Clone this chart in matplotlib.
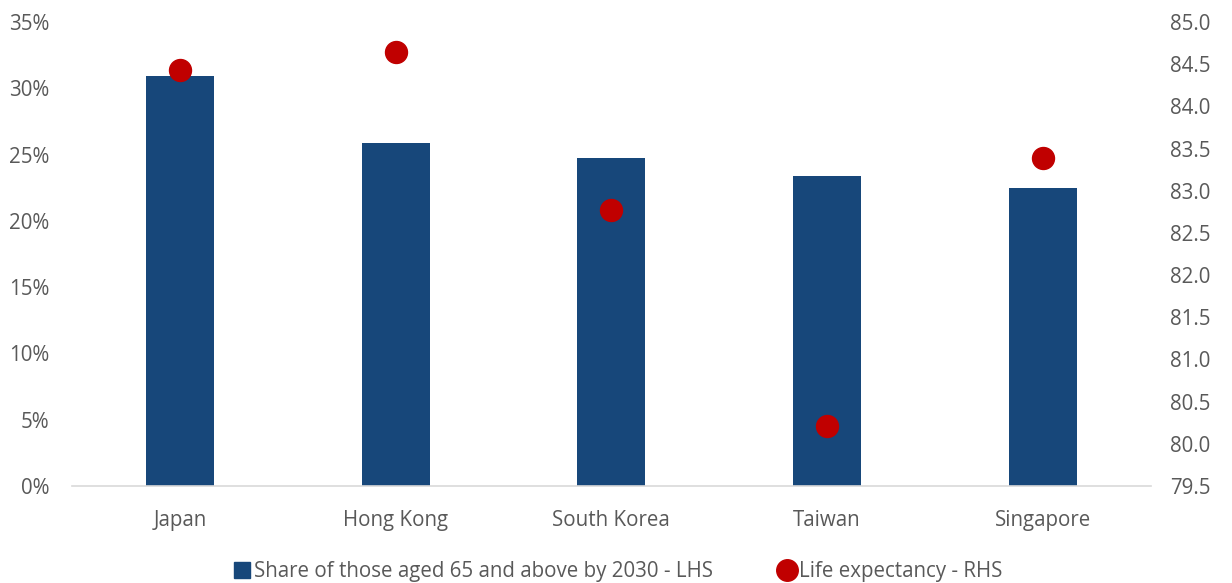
import matplotlib
matplotlib.use("Agg")
import matplotlib.pyplot as plt
from matplotlib.lines import Line2D
from matplotlib.ticker import FuncFormatter, MultipleLocator

categories = ["Japan", "Hong Kong", "South Korea", "Taiwan", "Singapore"]
share_65 = [30.9, 25.85, 24.75, 23.35, 22.5]
life_exp = [84.43, 84.64, 82.77, 80.21, 83.39]

plt.rcParams['font.family'] = ['Open Sans', 'DejaVu Sans']
grey = "#595959"
bar_color = "#17477A"
dot_color = "#C00000"

fig = plt.figure(figsize=(12.32, 5.83), dpi=100)
ax = fig.add_axes([0.0584, 0.1664, 0.8756, 0.7959])
x = range(len(categories))
ax.bar(x, share_65, width=0.315, color=bar_color, zorder=2)
ax.set_xlim(-0.5, len(categories) - 0.5)
ax.set_ylim(0, 35)
ax.yaxis.set_major_locator(MultipleLocator(5))
ax.yaxis.set_major_formatter(FuncFormatter(lambda v, p: f"{v:.0f}%"))
ax.set_xticks(list(x))
ax.set_xticklabels(categories)
for s in ["top", "right", "left"]:
    ax.spines[s].set_visible(False)
ax.spines["bottom"].set_color("#D9D9D9")
ax.spines["bottom"].set_linewidth(1.2)
ax.tick_params(axis="both", length=0, labelsize=14.8, colors=grey)
ax.tick_params(axis="x", pad=17)
ax.tick_params(axis="y", pad=16)

ax2 = ax.twinx()
ax2.scatter(x, life_exp, s=250, color=dot_color, zorder=3)
ax2.set_ylim(79.5, 85.0)
ax2.yaxis.set_major_locator(MultipleLocator(0.5))
ax2.yaxis.set_major_formatter(FuncFormatter(lambda v, p: f"{v:.1f}"))
for s in ["top", "right", "left", "bottom"]:
    ax2.spines[s].set_visible(False)
ax2.tick_params(axis="y", length=0, labelsize=14.8, colors=grey, pad=14)

handles = [
    Line2D([], [], marker="s", linestyle="none", markersize=11, color=bar_color),
    Line2D([], [], marker="o", linestyle="none", markersize=15.5, color=dot_color),
]
labels = ["Share of those aged 65 and above by 2030 - LHS", "Life expectancy - RHS"]
fig.legend(handles, labels, loc="lower center", bbox_to_anchor=(0.5, -0.03), ncol=2,
           frameon=False, fontsize=14.8, labelcolor=grey, handletextpad=0.0,
           columnspacing=3.0, handlelength=1.2)

fig.savefig("out.png", dpi=100)
